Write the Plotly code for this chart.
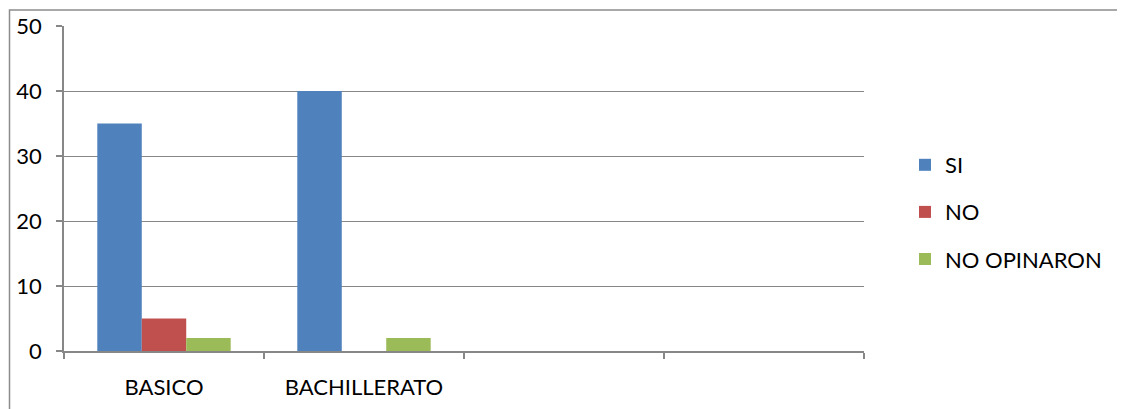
import plotly.graph_objects as go

categories = ["BASICO", "BACHILLERATO", " ", "  "]
bar_categories = ["BASICO", "BACHILLERATO"]
si_values = [35, 40]
no_values = [5, 0]
no_opinaron_values = [2, 2]
series_names = ["SI", "NO", "NO OPINARON"]
colors = ["#4F81BD", "#C0504D", "#9BBB59"]
y_ticks = [0, 10, 20, 30, 40, 50]

FONT = "Lato"
FS = 22
OFF = 8  # default page body margin
W, H = 1125 - OFF, 409 - OFF
# plot area in page pixels: x 64..864, y 26..351
L, T = 64 - OFF, 26 - OFF
R = W - (864 - OFF)
B = H - (351 - OFF)
pw, ph = W - L - R, H - T - B

def px_x(p):
    return (p - OFF - L) / pw

def px_y(p):
    return (H - B - (p - OFF)) / ph

fig = go.Figure()
for name, vals, col in zip(series_names, [si_values, no_values, no_opinaron_values], colors):
    fig.add_trace(go.Bar(x=bar_categories, y=vals, name=name, marker=dict(color=col, line=dict(width=0)),
                         legendgroup=name))

grid_col = "#878787"
fig.update_layout(
    width=W, height=H,
    margin=dict(l=L, r=R, t=T, b=B, pad=0, autoexpand=False),
    paper_bgcolor="white", plot_bgcolor="white",
    barmode="group", bargap=0.333, bargroupgap=0,
    font=dict(family=FONT, size=FS, color="black"),
    showlegend=True,
    legend=dict(x=px_x(905), y=px_y(144), xanchor="left", yanchor="top",
                font=dict(family=FONT, size=FS, color="black"),
                tracegroupgap=15.5, bgcolor="rgba(0,0,0,0)", itemclick=False),
    xaxis=dict(type="category", categoryorder="array", categoryarray=categories,
               range=[-0.5, 3.5], tickson="boundaries", ticks="outside", ticklen=6,
               tickcolor=grid_col, tickwidth=1.5, showline=True, linecolor=grid_col, linewidth=1.5,
               showgrid=False, ticklabelstandoff=16, tickfont=dict(size=FS, family=FONT),
               automargin=False),
    yaxis=dict(range=[0, 50], tickvals=y_ticks, ticks="outside", ticklen=6, tickcolor=grid_col,
               tickwidth=1.5, showline=True, linecolor=grid_col, linewidth=1.5,
               showgrid=True, gridcolor=grid_col, gridwidth=1.3, zeroline=False,
               ticklabelstandoff=10, tickfont=dict(size=FS, family=FONT), automargin=False),
)

fig.add_shape(type="rect", xref="paper", yref="paper",
              x0=px_x(9.5), x1=px_x(1160), y0=px_y(440), y1=px_y(10),
              line=dict(color="#8c8c8c", width=1.5), fillcolor="rgba(0,0,0,0)", layer="above")

fig.write_html("out.html")
